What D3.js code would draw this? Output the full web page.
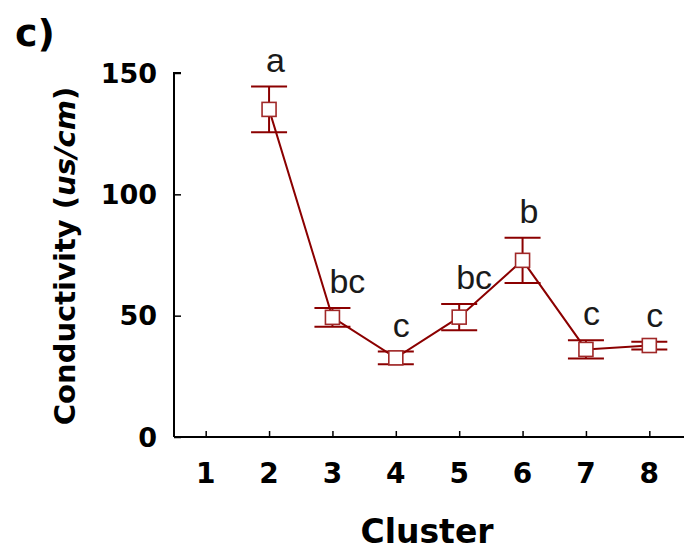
<!DOCTYPE html>
<html><head><meta charset="utf-8">
<script src="https://cdn.jsdelivr.net/npm/d3@7"></script>
<style>body{margin:0;background:#fff}svg{display:block}</style>
</head><body>
<script>
const clusters = [1,2,3,4,5,6,7,8];
const dataClusters = [2,3,4,5,6,7,8];
const means = [135, 49.3, 32.6, 49.4, 72.8, 36.1, 37.7];
const errors = [9.4, 3.9, 2.6, 5.4, 9.3, 3.8, 1.6];
const letters = ["a","bc","c","bc","b","c","c"];
const yTicks = [0,50,100,150];

const W=684,H=552;
const svg=d3.select("body").append("svg").attr("width",W).attr("height",H);
const x=d3.scaleLinear().domain([0.5,8.5]).range([174,681]);
const y=d3.scaleLinear().domain([0,150]).range([437,73]);
const red="#8B0000";
const bold="'DejaVu Sans', Verdana, sans-serif";

// axes
const yAxis=svg.append("g").attr("transform","translate(174,0)")
  .call(d3.axisRight(y).tickValues(yTicks).tickSize(7).tickFormat(""));
yAxis.select(".domain").attr("d",`M7,${y(150)}H0V${y(0)}`).attr("stroke","#000").attr("stroke-width",2);
yAxis.selectAll(".tick line").attr("stroke-width",1.5);
const xAxis=svg.append("g").attr("transform","translate(0,437)")
  .call(d3.axisTop(x).tickValues(clusters).tickSize(6).tickFormat(""));
xAxis.select(".domain").attr("d",`M174,0H684`).attr("stroke","#000").attr("stroke-width",2);
xAxis.selectAll(".tick line").attr("stroke-width",1.5);

// tick labels
svg.append("g").selectAll("text").data(yTicks).join("text")
  .attr("x",157).attr("y",d=>y(d)).attr("dy","0.36em").attr("text-anchor","end")
  .attr("font-family",bold).attr("font-weight","bold").attr("font-size",27).text(d=>d);
svg.append("g").selectAll("text").data(clusters).join("text")
  .attr("x",d=>x(d)).attr("y",483).attr("text-anchor","middle")
  .attr("font-family",bold).attr("font-weight","bold").attr("font-size",28).text(d=>d);

// axis titles
svg.append("text").attr("x",427).attr("y",543).attr("text-anchor","middle")
  .attr("font-family",bold).attr("font-weight","bold").attr("font-size",33).text("Cluster");
const yt=svg.append("text").attr("transform","translate(75,256) rotate(-90)").attr("text-anchor","middle")
  .attr("font-family",bold).attr("font-weight","bold").attr("font-size",29);
yt.append("tspan").text("Conductivity (");
yt.append("tspan").attr("font-style","italic").text("us/cm");
yt.append("tspan").text(")");

svg.append("text").attr("x",15).attr("y",46).attr("font-family",bold).attr("font-weight","bold")
  .attr("font-size",38).text("c)");

// data
const pts=dataClusters.map((c,i)=>({c,m:means[i],e:errors[i],l:letters[i]}));
svg.append("path").datum(pts).attr("fill","none").attr("stroke",red).attr("stroke-width",2)
  .attr("d",d3.line().x(d=>x(d.c)).y(d=>y(d.m)));
const eb=svg.append("g").attr("stroke",red).attr("stroke-width",2);
pts.forEach(d=>{
  eb.append("line").attr("x1",x(d.c)).attr("x2",x(d.c)).attr("y1",y(d.m+d.e)).attr("y2",y(d.m-d.e));
  [d.m+d.e,d.m-d.e].forEach(v=>eb.append("line").attr("x1",x(d.c)-18).attr("x2",x(d.c)+18).attr("y1",y(v)).attr("y2",y(v)));
});
svg.append("g").selectAll("rect").data(pts).join("rect")
  .attr("x",d=>x(d.c)-7).attr("y",d=>y(d.m)-7).attr("width",14).attr("height",14)
  .attr("fill","#fff").attr("stroke","#a02828").attr("stroke-width",1.6);
svg.append("g").selectAll("text").data(pts).join("text")
  .attr("x",d=>x(d.c)-3).attr("y",d=>y(d.m+d.e)-15)
  .attr("font-family","'Liberation Sans', Arial, sans-serif").attr("font-size",34).attr("fill","#1a1a1a")
  .text(d=>d.l);
</script>
</body></html>
